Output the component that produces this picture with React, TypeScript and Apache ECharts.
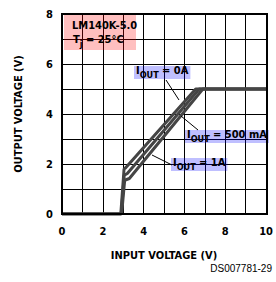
import React, { useEffect, useRef } from "react";
import * as echarts from "echarts";

const xTicks = [0, 2, 4, 6, 8, 10];
const yTicks = [0, 2, 4, 6, 8];
const seriesNames = ["IOUT = 0A", "IOUT = 500 mA", "IOUT = 1A"];
const curve0A: number[][] = [[0, 0], [2.88, 0], [3.04, 1.8], [3.12, 1.85], [6.55, 5.0], [10, 5.0]];
const curve500mA: number[][] = [[0, 0], [2.9, 0], [3.05, 1.55], [3.2, 1.62], [6.72, 5.0], [10, 5.0]];
const curve1A: number[][] = [[0, 0], [2.92, 0], [3.07, 1.35], [3.3, 1.42], [6.9, 5.0], [10, 5.0]];

const FONT = "'Liberation Sans Narrow', 'DejaVu Sans Condensed', 'Liberation Sans', Arial, sans-serif";

function richSub(main: string, sub: string, rest: string) {
  return {
    text: "{a|" + main + "}{b|" + sub + "}{a|" + rest + "}",
    rich: {
      a: { fontFamily: FONT, fontWeight: "bold", fontSize: 11, lineHeight: 13, padding: [0, 0, 3, 0], verticalAlign: "bottom", fill: "#000" },
      b: { fontFamily: FONT, fontWeight: "bold", fontSize: 9, lineHeight: 13, verticalAlign: "bottom", fill: "#000" },
    },
  };
}

export default function App() {
  const ref = useRef<HTMLDivElement>(null);
  useEffect(() => {
    if (!ref.current) return;
    const chart = echarts.init(ref.current, null, { renderer: "svg" });
    const curves = [curve0A, curve500mA, curve1A];
    chart.setOption({
      animation: false,
      grid: { left: 62, right: 9, top: 14, bottom: 68 },
      xAxis: {
        type: "value", min: 0, max: 10, interval: 1,
        axisLine: { show: false }, axisTick: { show: false },
        splitLine: { show: true, lineStyle: { color: "#000", width: 1 } },
        axisLabel: {
          margin: 12, color: "#000", fontWeight: "bold", fontSize: 11, fontFamily: FONT,
          formatter: (v: number) => (xTicks.includes(v) ? String(v) : ""),
        },
        name: "INPUT VOLTAGE (V)", nameLocation: "middle", nameGap: 36,
        nameTextStyle: { color: "#000", fontWeight: "bold", fontSize: 11, fontFamily: FONT },
      },
      yAxis: {
        type: "value", min: 0, max: 8, interval: 1,
        axisLine: { show: false }, axisTick: { show: false },
        splitLine: { show: true, lineStyle: { color: "#000", width: 1 } },
        axisLabel: {
          margin: 9, color: "#000", fontWeight: "bold", fontSize: 11, fontFamily: FONT,
          formatter: (v: number) => (yTicks.includes(v) ? String(v) : ""),
        },
        name: "OUTPUT VOLTAGE (V)", nameLocation: "middle", nameGap: 38, nameRotate: 90,
        nameTextStyle: { color: "#000", fontWeight: "bold", fontSize: 11, fontFamily: FONT },
      },
      series: curves.map((d, i) => ({
        name: seriesNames[i], type: "line", data: d, showSymbol: false, z: 5,
        lineStyle: { color: "#454545", width: 3 },
      })),
      graphic: [
        { type: "rect", z: 20, shape: { x: 62, y: 14, width: 205, height: 200 }, style: { fill: "none", stroke: "#000", lineWidth: 2 } },
        { type: "rect", z: 10, shape: { x: 64, y: 15, width: 72, height: 35 }, style: { fill: "rgba(255,0,0,0.25)" } },
        { type: "text", z: 11, x: 72, y: 25, style: { text: "LM140K-5.0", fontFamily: FONT, fontWeight: "bold", fontSize: 11, fill: "#000", verticalAlign: "middle" } },
        { type: "text", z: 11, x: 73, y: 35, style: richSub("T", "j", " = 25°C") },
        { type: "text", z: 11, x: 134, y: 66, style: { ...richSub("I", "OUT", " = 0A"), backgroundColor: "rgba(0,0,255,0.25)", padding: [0, 2, 0, 2] } },
        { type: "text", z: 11, x: 185, y: 130, style: { ...richSub("I", "OUT", " = 500 mA"), backgroundColor: "rgba(0,0,255,0.25)", padding: [0, 2, 0, 2] } },
        { type: "text", z: 11, x: 171, y: 158, style: { ...richSub("I", "OUT", " = 1A"), backgroundColor: "rgba(0,0,255,0.25)", padding: [0, 2, 0, 2] } },
        { type: "line", z: 12, shape: { x1: 166, y1: 80, x2: 179, y2: 100 }, style: { stroke: "#000", lineWidth: 1 } },
        { type: "line", z: 12, shape: { x1: 181, y1: 116, x2: 198, y2: 130 }, style: { stroke: "#000", lineWidth: 1 } },
        { type: "line", z: 12, shape: { x1: 152, y1: 155, x2: 172, y2: 165 }, style: { stroke: "#000", lineWidth: 1 } },
        { type: "text", z: 11, x: 272, y: 268, style: { text: "DS007781-29", fontFamily: "'Liberation Sans', Arial, sans-serif", fontSize: 10, fill: "#000", align: "right", verticalAlign: "middle" } },
      ],
    });
    return () => chart.dispose();
  }, []);
  return <div ref={ref} style={{ width: 276, height: 282, position: "absolute", left: 0, top: 0 }} />;
}
